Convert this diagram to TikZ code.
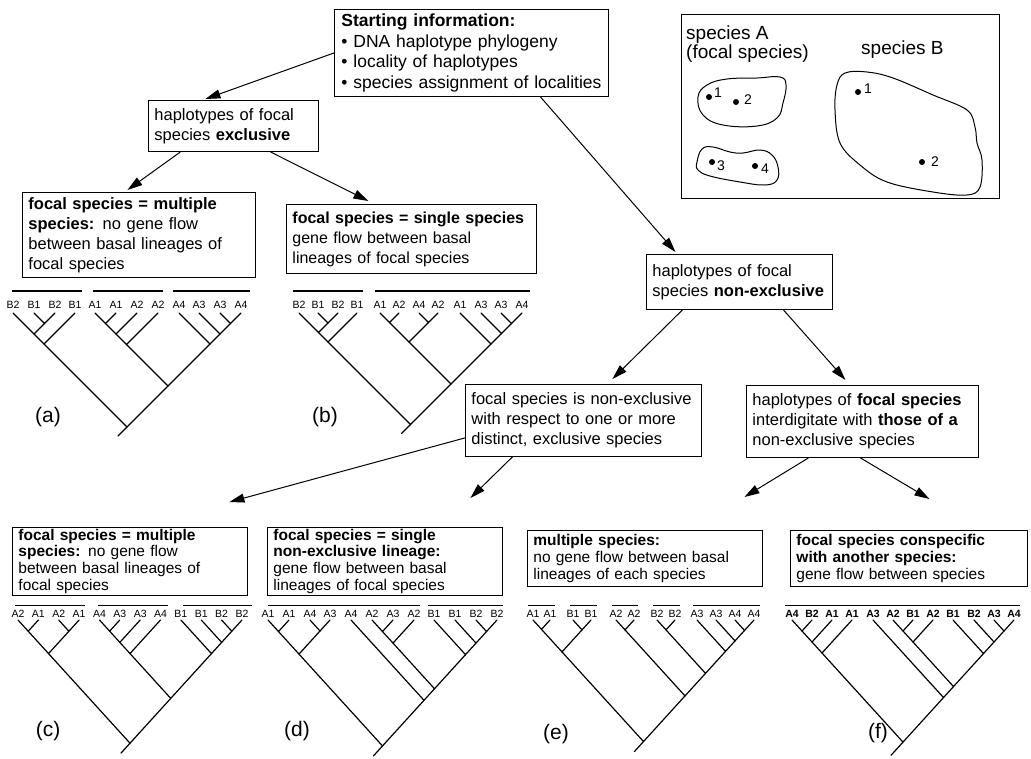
\documentclass[tikz,border=0pt]{standalone}
\usepackage{fontspec}
\setmainfont{Liberation Sans}
\usetikzlibrary{arrows.meta,calc}
\newcommand\tj[3]{%
  \path let \p1=(#2), \p2=(#3), \n1={((\x2)-(\x1)+((\y1)-(\y2))/\tk)/2} in ({\x1+\n1},{\y1-\tk*\n1}) coordinate (#1);
  \draw[tree] (#2) -- (#1) -- (#3);}
\newcommand\leaf[3]{\coordinate (#1) at (#2,\tipy); \node[lab] (#1l) at (#2,\laby) {#3};}
\begin{document}
\begin{tikzpicture}[x=1pt,y=-1pt,
  box/.style={draw, line width=0.9pt, inner xsep=6pt, inner ysep=4pt, align=left, anchor=north west, font=\fontsize{16.5}{20}\selectfont},
  lowbox/.style={box, inner ysep=1.5pt, font=\fontsize{15.5}{16.8}\selectfont},
  tree/.style={line width=1.2pt, line cap=round},
  lab/.style={font=\fontsize{10.5}{12}\selectfont, inner sep=0pt},
  bar/.style={line width=1.1pt},
  arr/.style={line width=1pt, -{Triangle[length=15pt,width=9pt]}},
  panel/.style={font=\fontsize{21}{24}\selectfont, inner sep=0pt},
  sp/.style={font=\fontsize{19}{18.5}\selectfont, align=left, inner sep=0pt, anchor=west},
  num/.style={font=\fontsize{14}{14}\selectfont, inner sep=0pt},
  dot/.style={circle, fill, inner sep=0pt, minimum size=6pt},
  blob/.style={line width=1pt},
]
\useasboundingbox (0,0) rectangle (1031,758);

% ---------- boxes ----------
\node[box, inner xsep=7pt, font=\fontsize{17.5}{20.4}\selectfont, minimum width=274pt, minimum height=87pt, text width=260pt] (start) at (334,9)
  {\textbf{Starting information:}\\ \textbullet\ DNA haplotype phylogeny\\ \textbullet\ locality of haplotypes\\ \textbullet\ species assignment of localities};
\node[box, minimum width=170pt, minimum height=51pt, text width=158pt] (excl) at (148,100)
  {haplotypes of focal\\ species \textbf{exclusive}};
\node[box, minimum width=233pt, minimum height=85pt, text width=221pt] (ba) at (22,192)
  {\textbf{focal species = multiple}\\ \textbf{species:} no gene flow\\ between basal lineages of\\ focal species};
\node[box, font=\fontsize{16}{20}\selectfont, minimum width=250pt, minimum height=69pt, text width=238pt] (bb) at (286,204)
  {\textbf{focal species = single species}\\ gene flow between basal\\ lineages of focal species};
\node[box, minimum width=186pt, minimum height=55pt, text width=174pt] (nonex) at (646,254)
  {haplotypes of focal\\ species \textbf{non-exclusive}};
\node[box, minimum width=236pt, minimum height=72pt, text width=224pt] (midL) at (465,384)
  {focal species is non-exclusive\\ with respect to one or more\\ distinct, exclusive species};
\node[box, minimum width=232pt, minimum height=72pt, text width=220pt] (midR) at (746,385)
  {haplotypes of \textbf{focal species}\\ interdigitate with \textbf{those of a}\\ non-exclusive species};
\node[lowbox, minimum width=235pt, minimum height=66pt, text width=223pt] (bc) at (12,527)
  {\textbf{focal species = multiple}\\ \textbf{species:} no gene flow\\ between basal lineages of\\ focal species};
\node[lowbox, minimum width=235pt, minimum height=66pt, text width=223pt] (bd) at (267,527)
  {\textbf{focal species = single}\\ \textbf{non-exclusive lineage:}\\ gene flow between basal\\ lineages of focal species};
\node[lowbox, minimum width=235pt, minimum height=56pt, text width=223pt] (be) at (527,530)
  {\textbf{multiple species:}\\ no gene flow between basal\\ lineages of each species};
\node[lowbox, minimum width=237pt, minimum height=56pt, text width=225pt] (bf) at (790,530)
  {\textbf{focal species conspecific}\\ \textbf{with another species:}\\ gene flow between species};

% ---------- arrows ----------
\draw[arr] (start.west) -- ([xshift=-28pt,yshift=1pt]excl.north);
\draw[arr] ([xshift=69pt]start.south) -- ([xshift=-64pt,yshift=2pt]nonex.north);
\draw[arr] ([xshift=-53pt]excl.south) -- ([xshift=-11.5pt,yshift=2pt]ba.north);
\draw[arr] ([xshift=37pt]excl.south) -- ([xshift=-43pt,yshift=3pt]bb.north);
\draw[arr] ([xshift=-57pt]nonex.south) -- ([xshift=29pt,yshift=5pt]midL.north);
\draw[arr] ([xshift=44pt]nonex.south) -- ([xshift=-17pt,yshift=5pt]midR.north);
\draw[arr] ([yshift=19pt]midL.south west) -- ([xshift=99.5pt,yshift=25pt]bc.north);
\draw[arr] ([xshift=-71pt]midL.south) -- ([xshift=85.5pt,yshift=29pt]bd.north);
\draw[arr] ([xshift=-54pt]midR.south) -- ([xshift=99.5pt,yshift=33pt]be.north);
\draw[arr] ([xshift=-2pt]midR.south) -- ([xshift=20.5pt,yshift=31pt]bf.north);

% ---------- species map ----------
\node[draw, line width=1.4pt, minimum width=318pt, minimum height=184pt, anchor=north west, inner sep=0pt] (spbox) at (681,14) {};
\node[sp] (spA) at (686,44) {species A\\(focal species)};
\node[sp] (spB) at (861,50) {species B};
\draw[blob] plot[smooth cycle, tension=0.7] coordinates {(698,97) (707,85) (727,79) (757,78) (780,77) (786,85) (783,103) (777,118) (757,126) (723,125) (703,115)};
\draw[blob] plot[smooth cycle, tension=0.7] coordinates {(697,162) (702,149) (713,147) (730,152) (743,153) (760,150) (772,155) (778,167) (777,180) (765,185) (740,182) (710,176) (698,170)};
\draw[blob] plot[smooth cycle, tension=0.6] coordinates {(837,85) (845,73) (867,72) (893,78) (933,95) (967,110) (975,127) (977,143) (982,160) (980,187) (967,195) (933,192) (887,182) (860,165) (840,143) (835,110)};
\node[dot] (dA1) at (709,97) {}; \node[num] (nA1) at (718,93) {1};
\node[dot] (dA2) at (736,102) {}; \node[num] (nA2) at (748,100) {2};
\node[dot] (dA3) at (712,162) {}; \node[num] (nA3) at (721,166) {3};
\node[dot] (dA4) at (755,166) {}; \node[num] (nA4) at (765,169) {4};
\node[dot] (dB1) at (858,92) {}; \node[num] (nB1) at (868,89) {1};
\node[dot] (dB2) at (922,162) {}; \node[num] (nB2) at (935,162) {2};

% ---------- tree (a) ----------
\def\tk{1}\def\tipy{313}\def\laby{305}
\leaf{a1}{13}{B2}\leaf{a2}{34}{B1}\leaf{a3}{55}{B2}\leaf{a4}{75}{B1}
\leaf{a5}{95}{A1}\leaf{a6}{116}{A1}\leaf{a7}{137}{A2}\leaf{a8}{158}{A2}
\leaf{a9}{179}{A4}\leaf{a10}{199}{A3}\leaf{a11}{220}{A3}\leaf{a12}{241}{A4}
\tj{an1}{a2}{a3}\tj{an2}{a1}{an1}\tj{an3}{an2}{a4}
\tj{an4}{a5}{a6}\tj{an5}{an4}{a7}\tj{an6}{an5}{a8}
\tj{an7}{a11}{a12}\tj{an8}{a10}{an7}\tj{an9}{a9}{an8}
\tj{an10}{an6}{an9}\tj{ar}{an3}{an10}
\draw[tree] (ar) -- ++(-9,{9*\tk}) coordinate (ars);
\draw[bar] (12,291) -- (82,291); \draw[bar] (93,291) -- (163,291); \draw[bar] (173,291) -- (250,291);
\node[panel] (pa) at (48,417) {(a)};

% ---------- tree (b) ----------
\leaf{b1}{299}{B2}\leaf{b2}{318}{B1}\leaf{b3}{338}{B2}\leaf{b4}{357}{B1}
\leaf{b5}{380}{A1}\leaf{b6}{399}{A2}\leaf{b7}{419}{A4}\leaf{b8}{438}{A2}
\leaf{b9}{460}{A1}\leaf{b10}{481}{A3}\leaf{b11}{501}{A3}\leaf{b12}{522}{A4}
\tj{bn1}{b2}{b3}\tj{bn2}{b1}{bn1}\tj{bn3}{bn2}{b4}
\tj{bn4}{b5}{b6}\tj{bn5}{b7}{b8}\tj{bn6}{bn4}{bn5}
\tj{bn7}{b11}{b12}\tj{bn8}{b10}{bn7}\tj{bn9}{b9}{bn8}
\tj{bn10}{bn6}{bn9}\tj{br}{bn3}{bn10}
\draw[tree] (br) -- ++(-9,{9*\tk}) coordinate (brs);
\draw[bar] (293,291) -- (363,291); \draw[bar] (375,291) -- (530,291);
\node[panel] (pb) at (325,417) {(b)};

% ---------- tree (c) ----------
\def\tk{1.1}\def\tipy{620}\def\laby{613.5}
\leaf{c1}{18}{A2}\leaf{c2}{38.4}{A1}\leaf{c3}{58.7}{A2}\leaf{c4}{79.1}{A1}
\leaf{c5}{99.5}{A4}\leaf{c6}{119.8}{A3}\leaf{c7}{140.2}{A3}\leaf{c8}{160.5}{A4}
\leaf{c9}{180.9}{B1}\leaf{c10}{201.3}{B1}\leaf{c11}{221.6}{B2}\leaf{c12}{242}{B2}
\tj{cn1}{c1}{c2}\tj{cn2}{c3}{c4}\tj{cn3}{cn1}{cn2}
\tj{cn4}{c5}{c6}\tj{cn5}{cn4}{c7}\tj{cn6}{cn5}{c8}
\tj{cn7}{c11}{c12}\tj{cn8}{c10}{cn7}\tj{cn9}{c9}{cn8}
\tj{cn10}{cn6}{cn9}\tj{cr}{cn3}{cn10}
\draw[tree] (cr) -- ++(-9,{9*\tk}) coordinate (crs);
\draw[bar] (15,605.5) -- (85,605.5); \draw[bar] (98,605.5) -- (168,605.5); \draw[bar] (183,605.5) -- (252,605.5);
\node[panel] (pc) at (48,731) {(c)};

% ---------- tree (d) ----------
\leaf{d1}{268}{A1}\leaf{d2}{289}{A1}\leaf{d3}{310}{A4}\leaf{d4}{330}{A3}
\leaf{d5}{351}{A4}\leaf{d6}{372}{A2}\leaf{d7}{393}{A3}\leaf{d8}{414}{A2}
\leaf{d9}{434}{B1}\leaf{d10}{455}{B1}\leaf{d11}{476}{B2}\leaf{d12}{497}{B2}
\tj{dn1}{d1}{d2}\tj{dn2}{d3}{d4}\tj{dn3}{dn1}{dn2}
\tj{dn4}{d6}{d7}\tj{dn5}{dn4}{d8}
\tj{dn6}{d11}{d12}\tj{dn7}{d10}{dn6}\tj{dn8}{d9}{dn7}
\tj{dn9}{dn5}{dn8}\tj{dn10}{d5}{dn9}\tj{dr}{dn3}{dn10}
\draw[tree] (dr) -- ++(-9,{9*\tk}) coordinate (drs);
\draw[bar] (268,605.5) -- (420,605.5); \draw[bar] (428,605.5) -- (503,605.5);
\node[panel] (pd) at (297,731) {(d)};

% ---------- tree (e) ----------
\leaf{e1}{533}{A1}\leaf{e2}{550}{A1}\leaf{e3}{573}{B1}\leaf{e4}{591}{B1}
\leaf{e5}{616}{A2}\leaf{e6}{634}{A2}\leaf{e7}{657}{B2}\leaf{e8}{675}{B2}
\leaf{e9}{697}{A3}\leaf{e10}{716}{A3}\leaf{e11}{735}{A4}\leaf{e12}{754}{A4}
\tj{en1}{e1}{e2}\tj{en2}{e3}{e4}\tj{en3}{en1}{en2}
\tj{en4}{e5}{e6}\tj{en5}{e7}{e8}
\tj{en6}{e11}{e12}\tj{en7}{e10}{en6}\tj{en8}{e9}{en7}
\tj{en9}{en5}{en8}\tj{en10}{en4}{en9}\tj{er}{en3}{en10}
\draw[tree] (er) -- ++(-9,{9*\tk}) coordinate (ers);
\draw[bar] (528,605.5) -- (555,605.5); \draw[bar] (570,605.5) -- (597,605.5); \draw[bar] (612,605.5) -- (638,605.5);
\draw[bar] (653,605.5) -- (680,605.5); \draw[bar] (693,605.5) -- (760,605.5);
\node[panel] (pe) at (556,734) {(e)};

% ---------- tree (f) ----------
\tikzset{lab/.append style={font=\fontsize{10.5}{12}\selectfont\bfseries}}
\leaf{f1}{792}{A4}\leaf{f2}{812}{B2}\leaf{f3}{832}{A1}\leaf{f4}{852}{A1}
\leaf{f5}{873}{A3}\leaf{f6}{893}{A2}\leaf{f7}{913}{B1}\leaf{f8}{933}{A2}
\leaf{f9}{953}{B1}\leaf{f10}{974}{B2}\leaf{f11}{994}{A3}\leaf{f12}{1014}{A4}
\tj{fn1}{f1}{f2}\tj{fn2}{fn1}{f3}\tj{fn3}{fn2}{f4}
\tj{fn4}{f6}{f7}\tj{fn5}{fn4}{f8}
\tj{fn6}{f11}{f12}\tj{fn7}{f10}{fn6}\tj{fn8}{f9}{fn7}
\tj{fn9}{fn5}{fn8}\tj{fn10}{f5}{fn9}\tj{fr}{fn3}{fn10}
\draw[tree] (fr) -- ++(-12,{12*\tk}) coordinate (frs);
\draw[bar] (785,605.5) -- (1020,605.5);
\node[panel] (pf) at (878,733) {(f)};
\end{tikzpicture}
\end{document}
